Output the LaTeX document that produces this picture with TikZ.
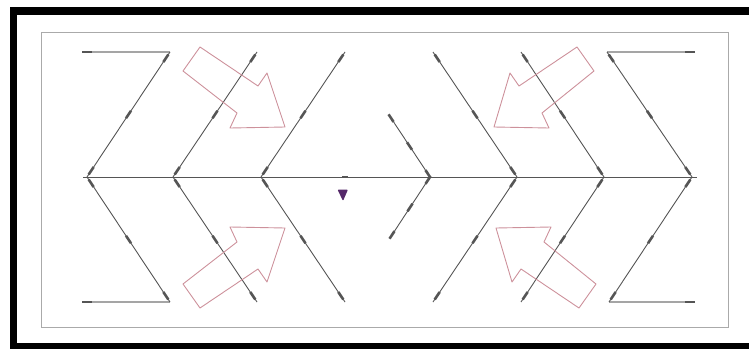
\documentclass[tikz,border=0pt]{standalone}
\usetikzlibrary{decorations.markings}
\definecolor{linegray}{RGB}{85,85,85}
\definecolor{hgray}{RGB}{165,165,165}
\definecolor{boxgray}{RGB}{170,170,170}
\definecolor{arrowpink}{RGB}{205,145,155}
\definecolor{tripurple}{RGB}{85,40,105}
\tikzset{
  diag/.style={draw=linegray, line width=0.9pt, postaction={decorate},
    decoration={markings,
      mark=at position 0.05 with {\draw[line width=2.6pt, linegray] (-4.5,0)--(4.5,0);},
      mark=at position 0.5 with {\draw[line width=2.6pt, linegray] (-4.5,0)--(4.5,0);},
      mark=at position 0.95 with {\draw[line width=2.6pt, linegray] (-4.5,0)--(4.5,0);}}},
  hline/.style={draw=hgray, line width=1.4pt, postaction={decorate},
    decoration={markings,
      mark=at position 0.06 with {\draw[line width=2.6pt, linegray] (-5,0)--(5,0);}}},
  mainline/.style={draw=linegray, line width=0.9pt},
  apexmark/.style={draw=linegray, line width=2.4pt},
  bigarrow/.style={draw=arrowpink, line width=0.9pt, line join=round},
}
\begin{document}
\begin{tikzpicture}[x=1pt,y=-1pt]
\useasboundingbox (0,0) rectangle (749,348);
\clip (0,0) rectangle (749,348);
% frames
\draw[line width=7.5pt, black] (13.5,11) rectangle (770,347);
\draw[boxgray, line width=1pt] (41,32) rectangle (728,327);
% named points
\coordinate (L1) at (87,177);  \coordinate (L2) at (173,177); \coordinate (L3) at (261,177);
\coordinate (T1) at (170,52);  \coordinate (T2) at (257,52);  \coordinate (T3) at (345,52);
\coordinate (B1) at (170,302); \coordinate (B2) at (257,302); \coordinate (B3) at (345,302);
\coordinate (R1) at (517,177); \coordinate (R2) at (604,177); \coordinate (R3) at (692,177);
\coordinate (U1) at (433,52);  \coordinate (U2) at (521,52);  \coordinate (U3) at (607,52);
\coordinate (V1) at (433,302); \coordinate (V2) at (521,302); \coordinate (V3) at (609,302);
\coordinate (S0) at (430,177); \coordinate (Sa) at (389,115); \coordinate (Sb) at (390,238);
\coordinate (HLa) at (82,52);  \coordinate (HLb) at (82,302);
\coordinate (HRa) at (695,52); \coordinate (HRb) at (695,302);
\coordinate (ML) at (83,177);  \coordinate (MR) at (697,177);
\coordinate (C0) at (345,177);
% main line
\draw[mainline] (ML) -- (MR);
\draw[apexmark] ([xshift=-3]C0) -- ([xshift=3]C0);
% horizontal end lines
\draw[hline] (HLa) -- (T1);
\draw[hline] (HLb) -- (B1);
\draw[hline] (HRa) -- (U3);
\draw[hline] (HRb) -- (V3);
% left chevrons
\foreach \a/\t/\b in {L1/T1/B1, L2/T2/B2, L3/T3/B3} {
  \draw[diag] (\a) -- (\t);
  \draw[diag] (\a) -- (\b);
}
% right chevrons
\foreach \a/\t/\b in {R1/U1/V1, R2/U2/V2, R3/U3/V3} {
  \draw[diag] (\a) -- (\t);
  \draw[diag] (\a) -- (\b);
}
% small middle chevron
\draw[diag] (S0) -- (Sa);
\draw[diag] (S0) -- (Sb);
% purple marker
\fill[tripurple, rounded corners=1pt] (337.5,189.5) -- (348,189.5) -- (343,201) -- cycle;
% big hollow arrows
\draw[bigarrow] (200,47) -- (258,86) -- (267,73) -- (285,127) -- (230,128) -- (237,113) -- (183,71) -- cycle;
\draw[bigarrow] (200,308) -- (258,269) -- (267,282) -- (285,228) -- (230,227) -- (237,242) -- (183,284) -- cycle;
\draw[bigarrow] (577,47) -- (519,86) -- (510,73) -- (494,127) -- (549,128) -- (542,113) -- (594,71) -- cycle;
\draw[bigarrow] (579,308) -- (521,269) -- (512,282) -- (496,228) -- (551,227) -- (544,242) -- (596,284) -- cycle;
\end{tikzpicture}
\end{document}
